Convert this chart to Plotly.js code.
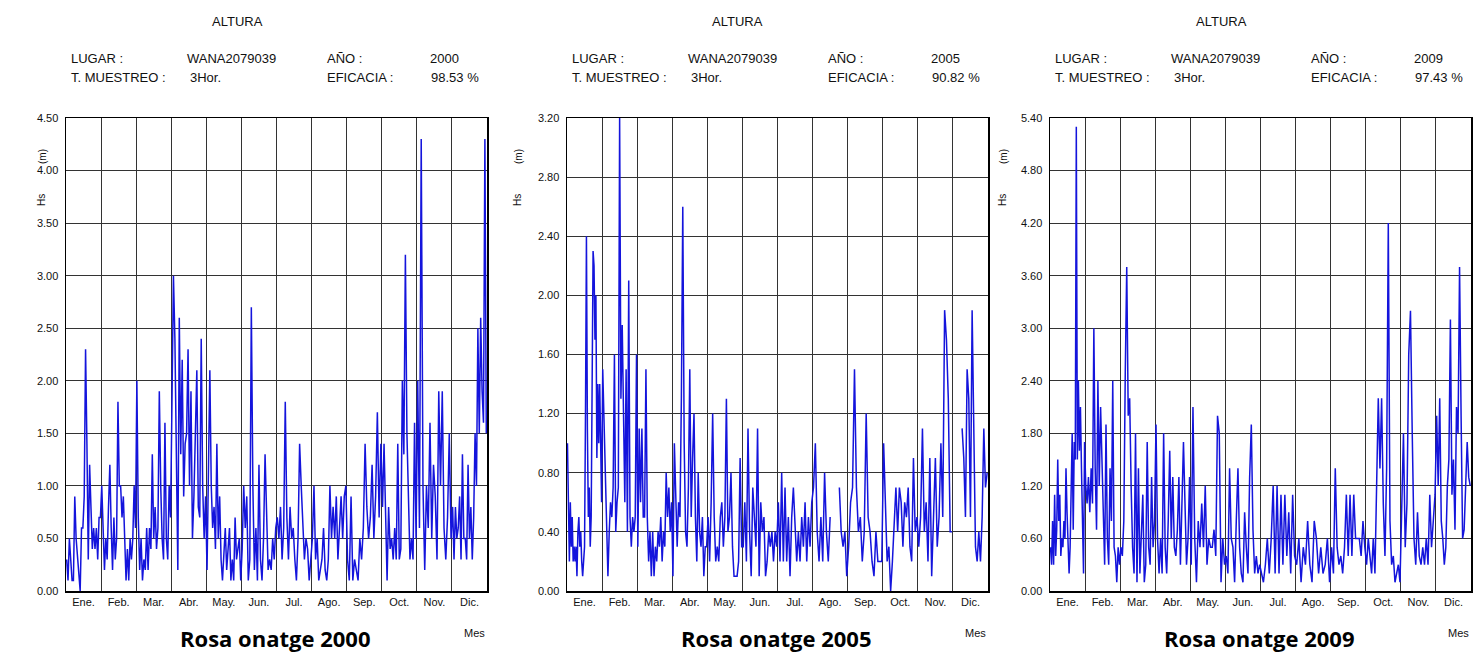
<!DOCTYPE html>
<html>
<head>
<meta charset="utf-8">
<script src="https://cdn.plot.ly/plotly-3.0.1.min.js"></script>
<style>html,body{margin:0;padding:0;background:#fff;}#chart{width:1473px;height:653px;}</style>
</head>
<body>
<div id="chart"></div>
<script>
// ---------- DATA ----------
const months = ['Ene.','Feb.','Mar.','Abr.','May.','Jun.','Jul.','Ago.','Sep.','Oct.','Nov.','Dic.'];
const years = ['2000','2005','2009'];
const efficacy = ['98.53 %','90.82 %','97.43 %'];
const place = 'WANA2079039';
const sampling = '3Hor.';

// Hs (m) read per month (Jan..Dec), samples in time order; null = no data
const hs2000 = [
  [0.3,0.1,0.5,0.3,0.1,0.1,0.9,0.5,0.3,0.1,0.0,0.6,0.6,0.9,2.3,1.4,0.3,1.2,0.8,0.4,0.6,0.4,0.6,0.3,0.7,0.7],
  [1.0,0.5,0.2,0.5,0.3,0.8,1.2,0.6,0.2,0.7,0.3,0.5,1.8,1.0,1.0,0.7,0.9,0.5,0.1,0.4,0.1,0.5,0.3,0.5,1.0,0.6],
  [2.0,0.7,0.2,0.5,0.1,0.3,0.2,0.6,0.2,0.6,0.4,1.3,0.5,0.8,0.4,0.6,1.9,1.0,0.5,0.3,1.6,0.5,0.3,1.0,0.7],
  [1.8,3.0,2.4,1.3,0.2,2.6,1.3,2.2,0.9,1.4,1.5,2.3,1.0,1.9,0.5,0.9,1.4,2.1,0.8,0.7,2.4,1.0,0.5,0.9],
  [0.2,1.0,2.1,1.0,0.6,0.8,0.4,1.4,0.5,0.9,0.3,0.1,0.3,0.6,0.2,0.4,0.6,0.1,0.3,0.1,0.7,0.3,0.4,0.5,0.1],
  [0.4,1.0,0.6,0.9,0.1,0.3,2.7,1.0,0.2,0.6,0.1,1.2,0.3,0.1,0.5,1.3,0.6,0.2,0.3,0.2,0.5,0.3,0.6],
  [0.7,0.5,0.8,0.3,0.6,1.8,0.7,0.3,0.8,0.5,0.6,0.3,0.1,0.5,1.4,1.0,0.6,0.3,0.5,0.4,0.1,0.3],
  [0.5,1.0,0.3,0.5,0.1,0.2,0.3,0.6,0.2,0.1,0.3,1.0,0.5,0.8,0.5,0.9,0.3,0.6,0.9,0.5,0.9,1.0],
  [0.3,0.1,0.9,0.1,0.3,0.2,0.1,0.5,0.3,0.6,1.4,0.8,0.5,0.7,1.2,0.5,0.9,1.7,0.7,1.4],
  [0.8,1.4,0.8,0.1,0.8,0.4,0.5,0.3,0.6,0.3,1.4,0.3,0.4,2.0,1.3,3.2,1.5,0.8,0.3,0.5,0.3,1.6,0.5],
  [2.0,0.6,4.3,1.0,0.2,1.0,0.6,1.6,0.5,1.2,0.9,0.3,1.9,1.0,1.9,0.6,0.3,0.7,1.5,0.5],
  [0.8,0.3,0.8,0.5,0.6,0.9,0.3,1.3,0.5,0.5,0.3,1.2,0.5,0.8,0.3,0.7,1.5,1.0,2.5,1.5,2.6,1.9,1.6,4.3,1.5]
];
const hs2005 = [
  [1.0,0.6,0.2,0.6,0.3,0.5,0.2,0.3,0.2,0.3,0.1,0.4,0.5,0.3,0.4,0.2,0.1,0.2,0.3,1.2,2.4,1.1,0.5,0.7,0.3,0.5,1.5,2.3,2.2,1.7,2.0,0.9,1.4,1.0,1.4,1.1,0.6],
  [1.5,1.1,0.7,0.3,0.1,0.4,0.6,0.5,0.7,1.6,0.4,0.6,0.7,3.2,1.3,1.8,1.0,0.6,1.5,0.4,2.1,0.5,0.3,0.5,0.4,0.5,1.6],
  [0.3,1.1,0.6,1.1,0.5,0.5,1.5,0.5,0.2,0.4,0.1,0.4,0.1,0.3,0.2,0.4,0.3,0.5,0.2,0.4,0.3,0.8,0.5,0.7,0.4,0.6],
  [0.1,1.0,0.6,0.3,0.6,0.5,1.3,2.6,1.0,0.4,0.3,0.7,1.5,0.5,0.9,1.2,0.5,0.2,0.8,0.4,0.3,0.5,0.1,0.3,0.3],
  [0.5,0.2,0.6,1.2,0.5,0.2,0.3,0.2,0.5,0.6,0.3,0.5,1.3,0.4,0.5,0.8,0.3,0.1,0.1,0.1,0.2,0.9,0.3],
  [0.3,0.6,0.2,1.1,0.4,0.1,0.7,0.5,0.3,1.1,0.1,0.6,0.4,0.5,0.1,0.2,0.4,0.3,0.4,0.2,0.4,0.3],
  [0.6,0.2,0.8,0.2,0.7,0.2,0.5,0.1,0.5,0.7,0.4,0.2,0.4,0.2,0.5,0.3,0.6,0.2,0.5,0.3,0.6],
  [0.7,1.0,0.4,0.2,0.5,0.2,0.8,0.4,0.2,0.5,null,null,null,null,0.7,0.4,0.3,0.4,0.1],
  [0.3,0.6,0.7,1.5,0.7,0.4,0.5,0.2,0.4,1.2,0.5,0.4,0.2,0.1,0.4,0.2,0.2,0.2],
  [1.0,0.5,0.2,0.3,0.0,0.2,0.5,0.7,0.4,0.7,0.6,0.3,0.6,0.5,0.7,0.3,0.2,0.9,0.4,0.5],
  [0.3,0.5,1.1,0.4,0.6,0.2,0.9,0.1,0.5,0.9,0.3,0.5,1.0,0.5,1.9,1.7,1.3,0.4,0.4],
  [null,null,null,null,null,1.1,0.9,0.5,1.5,1.3,0.5,1.9,1.1,0.3,0.2,0.4,0.2,0.5,1.1,0.7,0.8]
];
const hs2009 = [
  [0.5,0.3,0.8,0.3,1.1,0.4,0.7,1.5,0.8,1.1,0.4,0.6,0.5,0.8,0.6,1.4,0.9,0.6,0.2,0.5,1.3,1.8,0.7,1.7,1.5,5.3,1.5,2.4,1.6,2.1,1.4,0.6,0.2,1.7],
  [1.2,1.0,1.3,0.9,1.4,1.0,3.0,1.4,0.7,2.4,1.2,2.1,1.5,0.8,0.3,1.9,0.6,0.3,1.4,0.8,2.4,0.5,0.4,0.1,0.5,0.3],
  [0.5,0.4,0.8,2.5,3.7,2.0,2.2,1.2,0.5,0.2,1.8,0.1,1.4,0.2,0.8,1.1,0.1,0.3,1.7,0.5,0.3,1.3,0.5,0.8],
  [1.9,0.6,0.2,0.6,0.2,1.8,0.5,0.2,0.8,1.6,0.6,1.3,0.5,0.4,0.7,1.3,0.3,1.0,1.7,1.0,0.3,0.6,1.3],
  [0.3,2.1,0.6,0.1,0.8,0.5,1.0,0.5,1.2,0.3,0.6,0.5,0.5,0.7,0.4,2.0,1.8,0.1,0.6,0.3],
  [0.4,0.2,1.4,0.6,0.5,0.1,0.8,1.4,0.5,0.2,0.1,0.9,0.5,0.2,1.3,1.9,0.7,0.2,0.4,0.2,0.3],
  [0.2,0.1,0.3,0.6,0.2,0.6,1.2,0.2,1.2,0.2,1.1,0.3,1.1,0.4,0.9,0.2,1.1,0.4],
  [0.3,0.6,0.1,0.5,0.3,0.8,0.3,0.1,0.8,0.6,0.2,0.5,0.2,0.3,0.6,0.1],
  [0.5,0.2,1.4,0.5,0.3,0.4,0.2,0.5,1.1,0.4,1.1,0.4,1.1,0.6,0.6,0.6,0.4,0.8,0.5],
  [0.3,0.6,0.4,0.2,0.6,0.2,1.2,2.2,1.4,2.2,1.0,0.4,1.4,4.2,0.8,0.3,0.4,0.1,0.2,0.3,0.1],
  [1.0,1.8,0.5,1.0,2.7,3.2,1.8,0.6,0.3,0.9,0.4,0.3,0.5,0.3,0.6,0.3,1.1,0.5,0.8,1.1],
  [2.0,1.2,2.2,0.8,0.6,0.3,0.5,1.2,1.5,3.1,1.1,1.5,0.7,2.1,1.8,3.7,2.0,0.6,0.7,1.2,1.7,1.3,1.2]
];
const yTicks2000 = [0,0.5,1,1.5,2,2.5,3,3.5,4,4.5];
const yTicks2005 = [0,0.4,0.8,1.2,1.6,2.0,2.4,2.8,3.2];
const yTicks2009 = [0,0.6,1.2,1.8,2.4,3.0,3.6,4.2,4.8,5.4];

// ---------- LAYOUT ----------
const W = 1473, H = 653;
const plotLeft = [66, 567, 1050];
const plotW = 421;
const plotTop = 118, plotBottom = 591;
const ylabX = [42, 518, 1003];
const series = [hs2000, hs2005, hs2009];
const yTicks = [yTicks2000, yTicks2005, yTicks2009];

const FONT = 'Liberation Sans, Arial, sans-serif';
const px = v => v / W;
const py = v => 1 - v / H;

function expand(monthly) {
  const x = [], y = [];
  monthly.forEach((arr, m) => {
    arr.forEach((v, i) => { x.push(m + (i + 0.5) / arr.length); y.push(v); });
  });
  return {x, y};
}

const data = [];
const layout = {
  width: W, height: H,
  margin: {l: 0, r: 0, t: 0, b: 0},
  paper_bgcolor: '#fff', plot_bgcolor: '#fff',
  showlegend: false,
  font: {family: FONT, color: '#111', size: 11},
  annotations: []
};

for (let k = 0; k < 3; k++) {
  const s = expand(series[k]);
  const xa = k === 0 ? 'x' : 'x' + (k + 1);
  const ya = k === 0 ? 'y' : 'y' + (k + 1);
  data.push({
    type: 'scatter', mode: 'lines', x: s.x, y: s.y,
    xaxis: xa, yaxis: ya,
    line: {color: '#1414dc', width: 1.5},
    connectgaps: false, hoverinfo: 'skip'
  });
  const L = plotLeft[k];
  const xKey = k === 0 ? 'xaxis' : 'xaxis' + (k + 1);
  const yKey = k === 0 ? 'yaxis' : 'yaxis' + (k + 1);
  const yt = yTicks[k];
  layout[xKey] = {
    domain: [px(L), px(L + plotW)],
    anchor: ya,
    range: [0, 12],
    tickmode: 'array',
    tickvals: months.map((_, i) => i + 0.5),
    ticktext: months,
    ticks: '',
    showgrid: false,
    zeroline: false,
    showline: true, mirror: true, linecolor: '#000', linewidth: 1.5,
    tickfont: {family: FONT, size: 11, color: '#111'},
    minor: {tickmode: 'linear', tick0: 0, dtick: 1, showgrid: true, gridcolor: '#333', gridwidth: 1, ticks: ''},
    fixedrange: true
  };
  layout[yKey] = {
    domain: [py(plotBottom), py(plotTop)],
    anchor: xa,
    range: [0, yt[yt.length - 1]],
    tickmode: 'array',
    tickvals: yt,
    ticktext: yt.map(v => v.toFixed(2)),
    ticks: '',
    ticklabelstandoff: 4,
    showgrid: true, gridcolor: '#333', gridwidth: 1,
    zeroline: false,
    showline: true, mirror: true, linecolor: '#000', linewidth: 1.5,
    tickfont: {family: FONT, size: 11, color: '#111'},
    fixedrange: true
  };

  const ann = (text, x, y, opts) => layout.annotations.push(Object.assign({
    text, x: px(x), y: py(y), xref: 'paper', yref: 'paper',
    showarrow: false, xanchor: 'left', yanchor: 'middle',
    font: {family: FONT, size: 13, color: '#111'}
  }, opts || {}));

  ann('ALTURA', L + 171, 21, {xanchor: 'center'});
  ann('LUGAR :', L + 3, 58);
  ann(place, L + 119, 58);
  ann('AÑO :', L + 259, 58);
  ann(years[k], L + 362, 58);
  ann('T. MUESTREO :', L + 3, 77);
  ann(sampling, L + 122, 77);
  ann('EFICACIA :', L + 259, 77);
  ann(efficacy[k], L + 363, 77);
  ann('Hs', ylabX[k], 200, {xanchor: 'center', textangle: -90, font: {family: FONT, size: 10, color: '#111'}});
  ann('(m)', ylabX[k], 157, {xanchor: 'center', textangle: -90, font: {family: FONT, size: 10, color: '#111'}});
  ann('Mes', L + plotW, 633, {xanchor: 'right', font: {family: FONT, size: 11, color: '#111'}});
  ann('<b>Rosa onatge ' + years[k] + '</b>', L + plotW / 2 - 2, 638, {xanchor: 'center', font: {family: 'Open Sans, Lato, sans-serif', size: 22, color: '#000'}});
}

Plotly.newPlot('chart', data, layout, {staticPlot: true, displayModeBar: false});
</script>
</body>
</html>
